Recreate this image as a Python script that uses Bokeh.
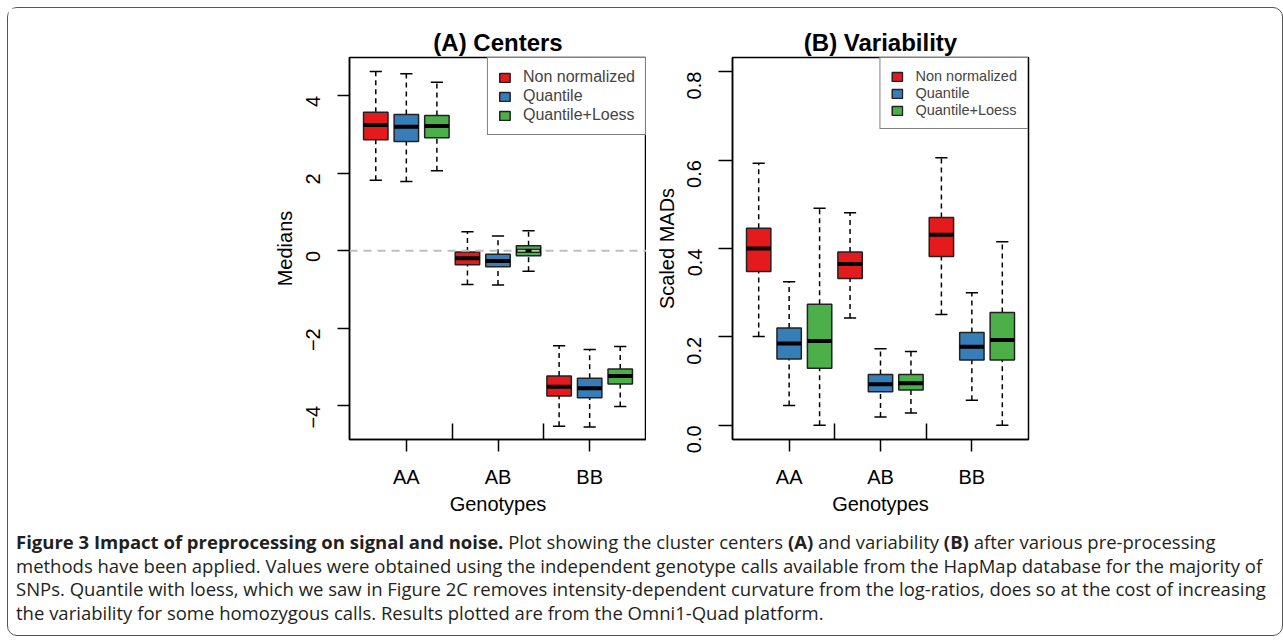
import math
from bokeh.plotting import figure
from bokeh.models import Range1d, FixedTicker, Span, Div, PrintfTickFormatter
from bokeh.layouts import row, column
from bokeh.embed import file_html
from bokeh.resources import INLINE

# ---------------- data ----------------
genotypes = ["AA", "AB", "BB"]
methods = ["Non normalized", "Quantile", "Quantile+Loess"]
colors = ["#E41A1C", "#377EB8", "#4DAF4A"]

# five-number summaries per genotype (AA, AB, BB): lower whisker, Q1, median, Q3, upper whisker
# (A) Centers (medians)
centers_non = [[1.82, 2.87, 3.25, 3.58, 4.63], [-0.87, -0.36, -0.19, -0.03, 0.49], [-4.53, -3.75, -3.51, -3.23, -2.45]]
centers_qn = [[1.79, 2.82, 3.20, 3.52, 4.57], [-0.88, -0.41, -0.26, -0.09, 0.38], [-4.55, -3.79, -3.55, -3.29, -2.55]]
centers_ql = [[2.07, 2.92, 3.22, 3.49, 4.35], [-0.53, -0.13, 0.00, 0.13, 0.52], [-4.02, -3.44, -3.23, -3.05, -2.47]]

# (B) Variability (scaled MADs)
mads_non = [[0.201, 0.348, 0.400, 0.446, 0.593], [0.243, 0.332, 0.365, 0.392, 0.481], [0.251, 0.382, 0.431, 0.470, 0.605]]
mads_qn = [[0.045, 0.150, 0.185, 0.220, 0.325], [0.019, 0.076, 0.093, 0.115, 0.173], [0.057, 0.148, 0.178, 0.210, 0.300]]
mads_ql = [[0.000, 0.129, 0.191, 0.274, 0.491], [0.028, 0.080, 0.095, 0.115, 0.167], [0.000, 0.148, 0.193, 0.255, 0.415]]

centers_ticks = [-4, -2, 0, 2, 4]
mads_ticks = [0.0, 0.2, 0.4, 0.6, 0.8]

FONT = "Liberation Sans"


def make_panel(title, ylabel, series, y_range, yticks, legend_font, legend_spacing,
               min_left, min_right, frame_w, tick_out, label_standoff, title_standoff):
    n_m = len(methods)
    p = figure(output_backend="svg", toolbar_location=None,
               frame_width=frame_w, frame_height=382,
               min_border_left=min_left, min_border_right=min_right,
               min_border_top=49, min_border_bottom=86,
               x_range=Range1d(0.14, 3 * n_m + 0.86), y_range=y_range,
               background_fill_color="white", border_fill_color="white")
    p.xgrid.visible = False
    p.ygrid.visible = False
    p.outline_line_color = "black"
    p.outline_line_width = 1.5

    for m, (name, col, data) in enumerate(zip(methods, colors, series)):
        xs = [n_m * g + m + 1 for g in range(len(genotypes))]
        lo = [d[0] for d in data]
        q1 = [d[1] for d in data]
        med = [d[2] for d in data]
        q3 = [d[3] for d in data]
        hi = [d[4] for d in data]
        # whiskers
        p.segment(xs, q3, xs, hi, line_color="black", line_width=1.5, line_dash="5 4")
        p.segment(xs, lo, xs, q1, line_color="black", line_width=1.5, line_dash="5 4")
        # staples
        p.segment([x - 0.2 for x in xs], hi, [x + 0.2 for x in xs], hi, line_color="black", line_width=1.5)
        p.segment([x - 0.2 for x in xs], lo, [x + 0.2 for x in xs], lo, line_color="black", line_width=1.5)
        # boxes
        p.vbar(x=xs, width=0.8, bottom=q1, top=q3, fill_color=col,
               line_color="#222222", line_width=1.5, legend_label=name)
        # medians
        p.segment([x - 0.4 for x in xs], med, [x + 0.4 for x in xs], med, line_color="black", line_width=4)

    # axes
    gt = [n_m * g + 2 for g in range(len(genotypes))]
    seps = [n_m * g + 3.5 for g in range(len(genotypes) - 1)]
    p.xaxis.ticker = FixedTicker(ticks=gt, minor_ticks=seps)
    p.xaxis.major_label_overrides = {t: g for t, g in zip(gt, genotypes)}
    p.xaxis.axis_label = "Genotypes"
    p.yaxis.ticker = FixedTicker(ticks=yticks)
    p.yaxis.axis_label = ylabel
    p.yaxis.major_label_orientation = math.pi / 2

    for ax in (p.xaxis[0], p.yaxis[0]):
        ax.axis_line_color = "black"
        ax.axis_line_width = 1.5
        ax.major_tick_line_color = "black"
        ax.major_tick_line_width = 1.5
        ax.major_tick_in = 0
        ax.major_tick_out = 12
        ax.major_label_text_font = FONT
        ax.major_label_text_font_size = "20px"
        ax.major_label_text_color = "black"
        ax.axis_label_text_font = FONT
        ax.axis_label_text_font_size = "20px"
        ax.axis_label_text_font_style = "normal"
        ax.axis_label_text_color = "black"
    p.yaxis.major_tick_out = tick_out
    p.yaxis.major_label_standoff = 24
    p.yaxis.axis_label_standoff = label_standoff
    p.xaxis.major_label_standoff = 14
    p.xaxis.axis_label_standoff = 2
    p.xaxis.minor_tick_in = 16
    p.xaxis.minor_tick_out = 0
    p.xaxis.minor_tick_line_color = "black"
    p.xaxis.minor_tick_line_width = 1.5
    p.yaxis.minor_tick_line_color = None

    p.title.text = title
    p.title.align = "center"
    p.title.text_font = FONT
    p.title.text_font_size = "24px"
    p.title.text_font_style = "bold"
    p.title.text_color = "black"
    p.title.standoff = title_standoff

    lg = p.legend[0]
    lg.location = "top_right"
    lg.margin = 0
    lg.padding = 10
    lg.spacing = legend_spacing
    lg.border_line_color = "black"
    lg.border_line_width = 1.5
    lg.background_fill_alpha = 1.0
    lg.label_text_font = FONT
    lg.label_text_font_size = legend_font
    lg.label_standoff = 12
    lg.glyph_width = 13
    lg.glyph_height = 11
    lg.label_height = 16
    return p


pA = make_panel("(A) Centers", "Medians", [centers_non, centers_qn, centers_ql],
                Range1d(-4.87, 4.99), centers_ticks, "16px", 1, 341, 0, 297, 12, 1, 4)
pA.yaxis.major_label_overrides = {t: ("\u2212" + str(-t) if t < 0 else str(t)) for t in centers_ticks}
pA.add_layout(Span(location=0, dimension="width", line_color="#BEBEBE",
                   line_width=2, line_dash="8 6"))

pB = make_panel("(B) Variability", "Scaled MADs", [mads_non, mads_qn, mads_ql],
                Range1d(-0.032, 0.832), mads_ticks, "14.5px", 1, 86, 247, 296, 14, 0, 4)
pB.yaxis.formatter = PrintfTickFormatter(format="%.1f")

caption_html = (
    '<div style="font-family:\'Open Sans\'; font-size:18.5px; line-height:23.7px; '
    'white-space:nowrap; color:#231f20; margin-left:3px; margin-top:0px;">'
    '<b>Figure 3 Impact of preprocessing on signal and noise.</b> Plot showing the cluster centers '
    '<b>(A)</b> and variability <b>(B)</b> after various pre-processing<br>'
    'methods have been applied. Values were obtained using the independent genotype calls available '
    'from the HapMap database for the majority of<br>'
    'SNPs. Quantile with loess, which we saw in Figure 2C removes intensity-dependent curvature from '
    'the log-ratios, does so at the cost of increasing<br>'
    'the variability for some homozygous calls. Results plotted are from the Omni1-Quad platform.'
    '</div>'
)
caption = Div(text=caption_html, width=1264, height=100)

layout = column(row(pA, pB), caption,
                styles={"border": "1.5px solid #555555", "border-radius": "10px",
                        "margin-left": "7px", "margin-top": "7px"})

open("out.html", "w").write(file_html(layout, INLINE))
